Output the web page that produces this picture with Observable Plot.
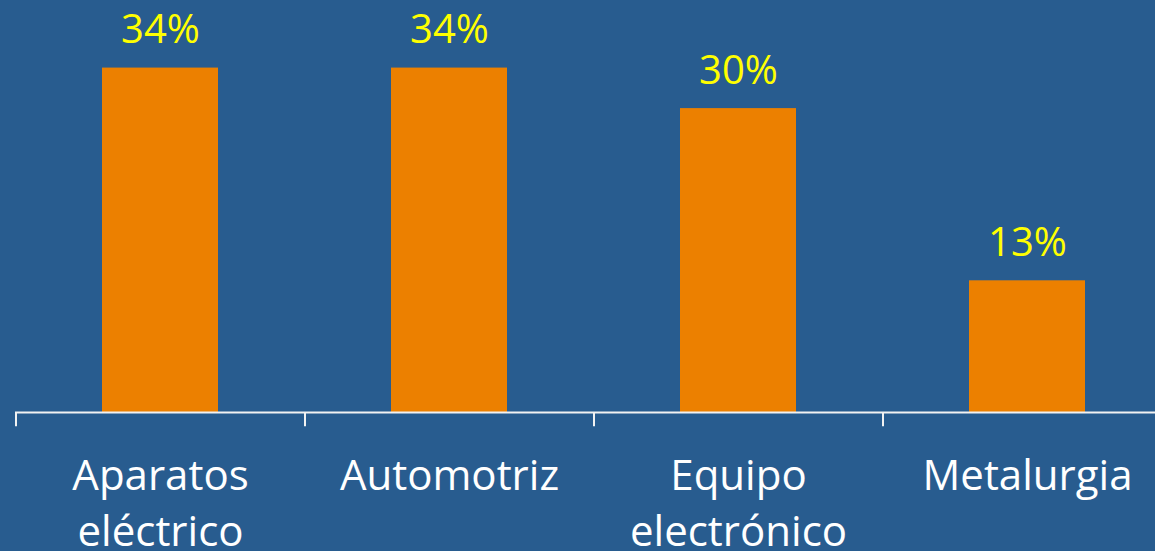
<!DOCTYPE html>
<html>
<head>
<meta charset="utf-8">
<script src="https://cdn.jsdelivr.net/npm/d3@7"></script>
<script src="https://cdn.jsdelivr.net/npm/@observablehq/plot@0.6"></script>
<style>
  html, body { margin: 0; padding: 0; background: #285C8F; overflow: hidden; width: 1155px; height: 551px; }
  #chart { width: 1155px; height: 551px; overflow: hidden; }
  #chart svg { max-width: none !important; }
</style>
</head>
<body>
<div id="chart"></div>
<script>
const categories = ["Aparatos\neléctrico", "Automotriz", "Equipo\nelectrónico", "Metalurgia"];
const values = [34, 34, 30, 13];

const data = categories.map((c, i) => ({cat: c, val: values[i]}));

const W = 1172, marginLeft = 15, marginRight = 1;
const band = d3.scaleBand().domain(categories).range([marginLeft, W - marginRight]).paddingInner(0.6).paddingOuter(0.3);
const step = band.step();

const chart = Plot.plot({
  width: W,
  height: 551,
  marginLeft, marginRight, marginTop: 0, marginBottom: 0,
  style: {background: "#285C8F", color: "white", fontFamily: "'Open Sans', sans-serif", overflow: "visible", maxWidth: "none"},
  x: {domain: categories, paddingInner: 0.6, paddingOuter: 0.3, axis: null},
  y: {domain: [0, 40], range: [412, 412 - 40 * 10.13], axis: null},
  marks: [
    Plot.barY(data, {x: "cat", y: "val", fill: "#EC8000"}),
    Plot.ruleY([0], {stroke: "#F2F2F2", strokeWidth: 2}),
    Plot.ruleX(categories, {x: d => d, y1: 0, y2: -1.4, dx: -step / 2, stroke: "#F2F2F2", strokeWidth: 2}),
    Plot.ruleX(categories.slice(-1), {x: d => d, y1: 0, y2: -1.4, dx: step / 2, stroke: "#F2F2F2", strokeWidth: 2}),
    Plot.text(data, {x: "cat", y: "val", text: d => d.val + "%", dy: -25, lineAnchor: "bottom", fill: "#FFFF00", fontSize: 40}),
    Plot.text(categories, {x: d => d, y: 0, text: d => d, dy: 38, lineAnchor: "top", lineHeight: 1.33, fill: "white", fontSize: 42})
  ]
});
document.getElementById("chart").appendChild(chart);
</script>
</body>
</html>
